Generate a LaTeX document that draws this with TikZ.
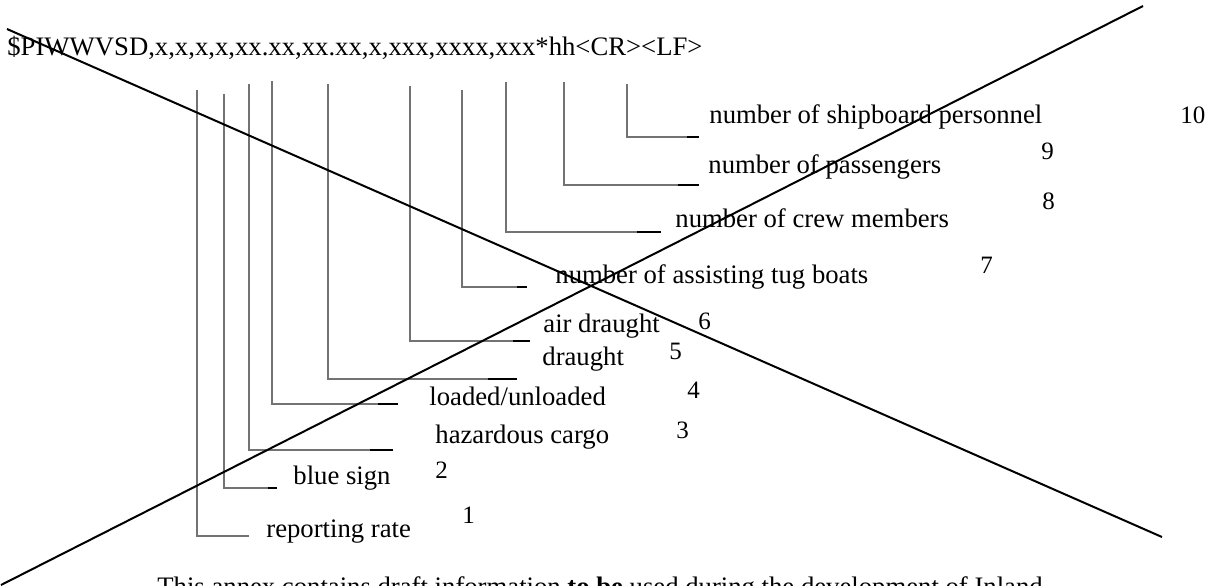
\documentclass[tikz,border=0pt]{standalone}
\usepackage{fontspec}
\setmainfont{Liberation Serif}
\begin{document}
\begin{tikzpicture}[x=0.5pt, y=-0.5pt,
  fieldname/.style={anchor=base west, inner sep=0pt, font=\fontsize{13.35}{16}\selectfont},
  fieldno/.style={anchor=base west, inner sep=0pt, font=\fontsize{12.5}{15}\selectfont},
  leader/.style={black!55, line width=0.6pt},
  leaderend/.style={black, line width=0.8pt},
  crossline/.style={black, line width=1pt}]
  % --- page frame, in pixels of the sheet ---
  \useasboundingbox (0,0) rectangle (1217,585);

  % ---- sentence ----
  \node[fieldname] (hdr) at (7,55)
    {\$PIWWVSD,x,x,x,x,xx.xx,xx.xx,x,xxx,xxxx,xxx*hh<CR><LF>};

  % ---- leader tops (under the sentence) ----
  \coordinate (f1) at (197,90);
  \coordinate (f2) at (224,94);
  \coordinate (f3) at (249,84);
  \coordinate (f4) at (272,81);
  \coordinate (f5) at (328,84);
  \coordinate (f6) at (410,86);
  \coordinate (f7) at (462,90);
  \coordinate (f8) at (506,82);
  \coordinate (f9) at (564,82);
  \coordinate (f10) at (627,84);

  % ---- leader ends ----
  \coordinate (e1) at (249,536);
  \coordinate (e2) at (277,488);
  \coordinate (e3) at (393,450);
  \coordinate (e4) at (398,404);
  \coordinate (e5) at (517,379);
  \coordinate (e6) at (530,341);
  \coordinate (e7) at (527,287);
  \coordinate (e8) at (661,232);
  \coordinate (e9) at (699,185);
  \coordinate (e10) at (699,137);

  % ---- field names ----
  \node[fieldname] (n1) at (266,537) {reporting rate};
  \node[fieldname] (n2) at (293,484) {blue sign};
  \node[fieldname] (n3) at (435,443) {hazardous cargo};
  \node[fieldname] (n4) at (429,405) {loaded/unloaded};
  \node[fieldname] (n5) at (542,365) {draught};
  \node[fieldname] (n6) at (543,332) {air draught};
  \node[fieldname] (n7) at (555,283) {number of assisting tug boats};
  \node[fieldname] (n8) at (675,227) {number of crew members};
  \node[fieldname] (n9) at (708,173) {number of passengers};
  \node[fieldname] (n10) at (709,123) {number of shipboard personnel};

  % ---- field numbers ----
  \node[fieldno] (k1) at (462,523) {1};
  \node[fieldno] (k2) at (435,478) {2};
  \node[fieldno] (k3) at (676,438) {3};
  \node[fieldno] (k4) at (687,398) {4};
  \node[fieldno] (k5) at (669,359) {5};
  \node[fieldno] (k6) at (698,329) {6};
  \node[fieldno] (k7) at (980,273) {7};
  \node[fieldno] (k8) at (1042,209) {8};
  \node[fieldno] (k9) at (1041,159) {9};
  \node[fieldno] (k10) at (1180,123) {10};

  % ---- leaders ----
  \draw[leader] (f1) |- (e1);
  \draw[leader] (f2) |- (e2);
  \draw[leader] (f3) |- (e3);
  \draw[leader] (f4) |- (e4);
  \draw[leader] (f5) |- (e5);
  \draw[leader] (f6) |- (e6);
  \draw[leader] (f7) |- (e7);
  \draw[leader] (f8) |- (e8);
  \draw[leader] (f9) |- (e9);
  \draw[leader] (f10) |- (e10);
  \draw[leaderend] (e2) -- ++(-9,0);
  \draw[leaderend] (e3) -- ++(-23,0);
  \draw[leaderend] (e4) -- ++(-20,0);
  \draw[leaderend] (e5) -- ++(-29,0);
  \draw[leaderend] (e6) -- ++(-17,0);
  \draw[leaderend] (e7) -- ++(-10,0);
  \draw[leaderend] (e8) -- ++(-24,0);
  \draw[leaderend] (e9) -- ++(-21,0);
  \draw[leaderend] (e10) -- ++(-12,0);

  % ---- note, cut by the page edge ----
  \node[fieldname] (note) at (157,595)
    {This annex contains draft information \textbf{to be} used during the development of Inland};

  % ---- cross over the whole sheet ----
  \coordinate (xa) at (7,29);
  \coordinate (xb) at (1162,537);
  \coordinate (xc) at (1,585);
  \coordinate (xd) at (1143,6);
  \draw[crossline] (xa) -- (xb);
  \draw[crossline] (xc) -- (xd);
\end{tikzpicture}
\end{document}
